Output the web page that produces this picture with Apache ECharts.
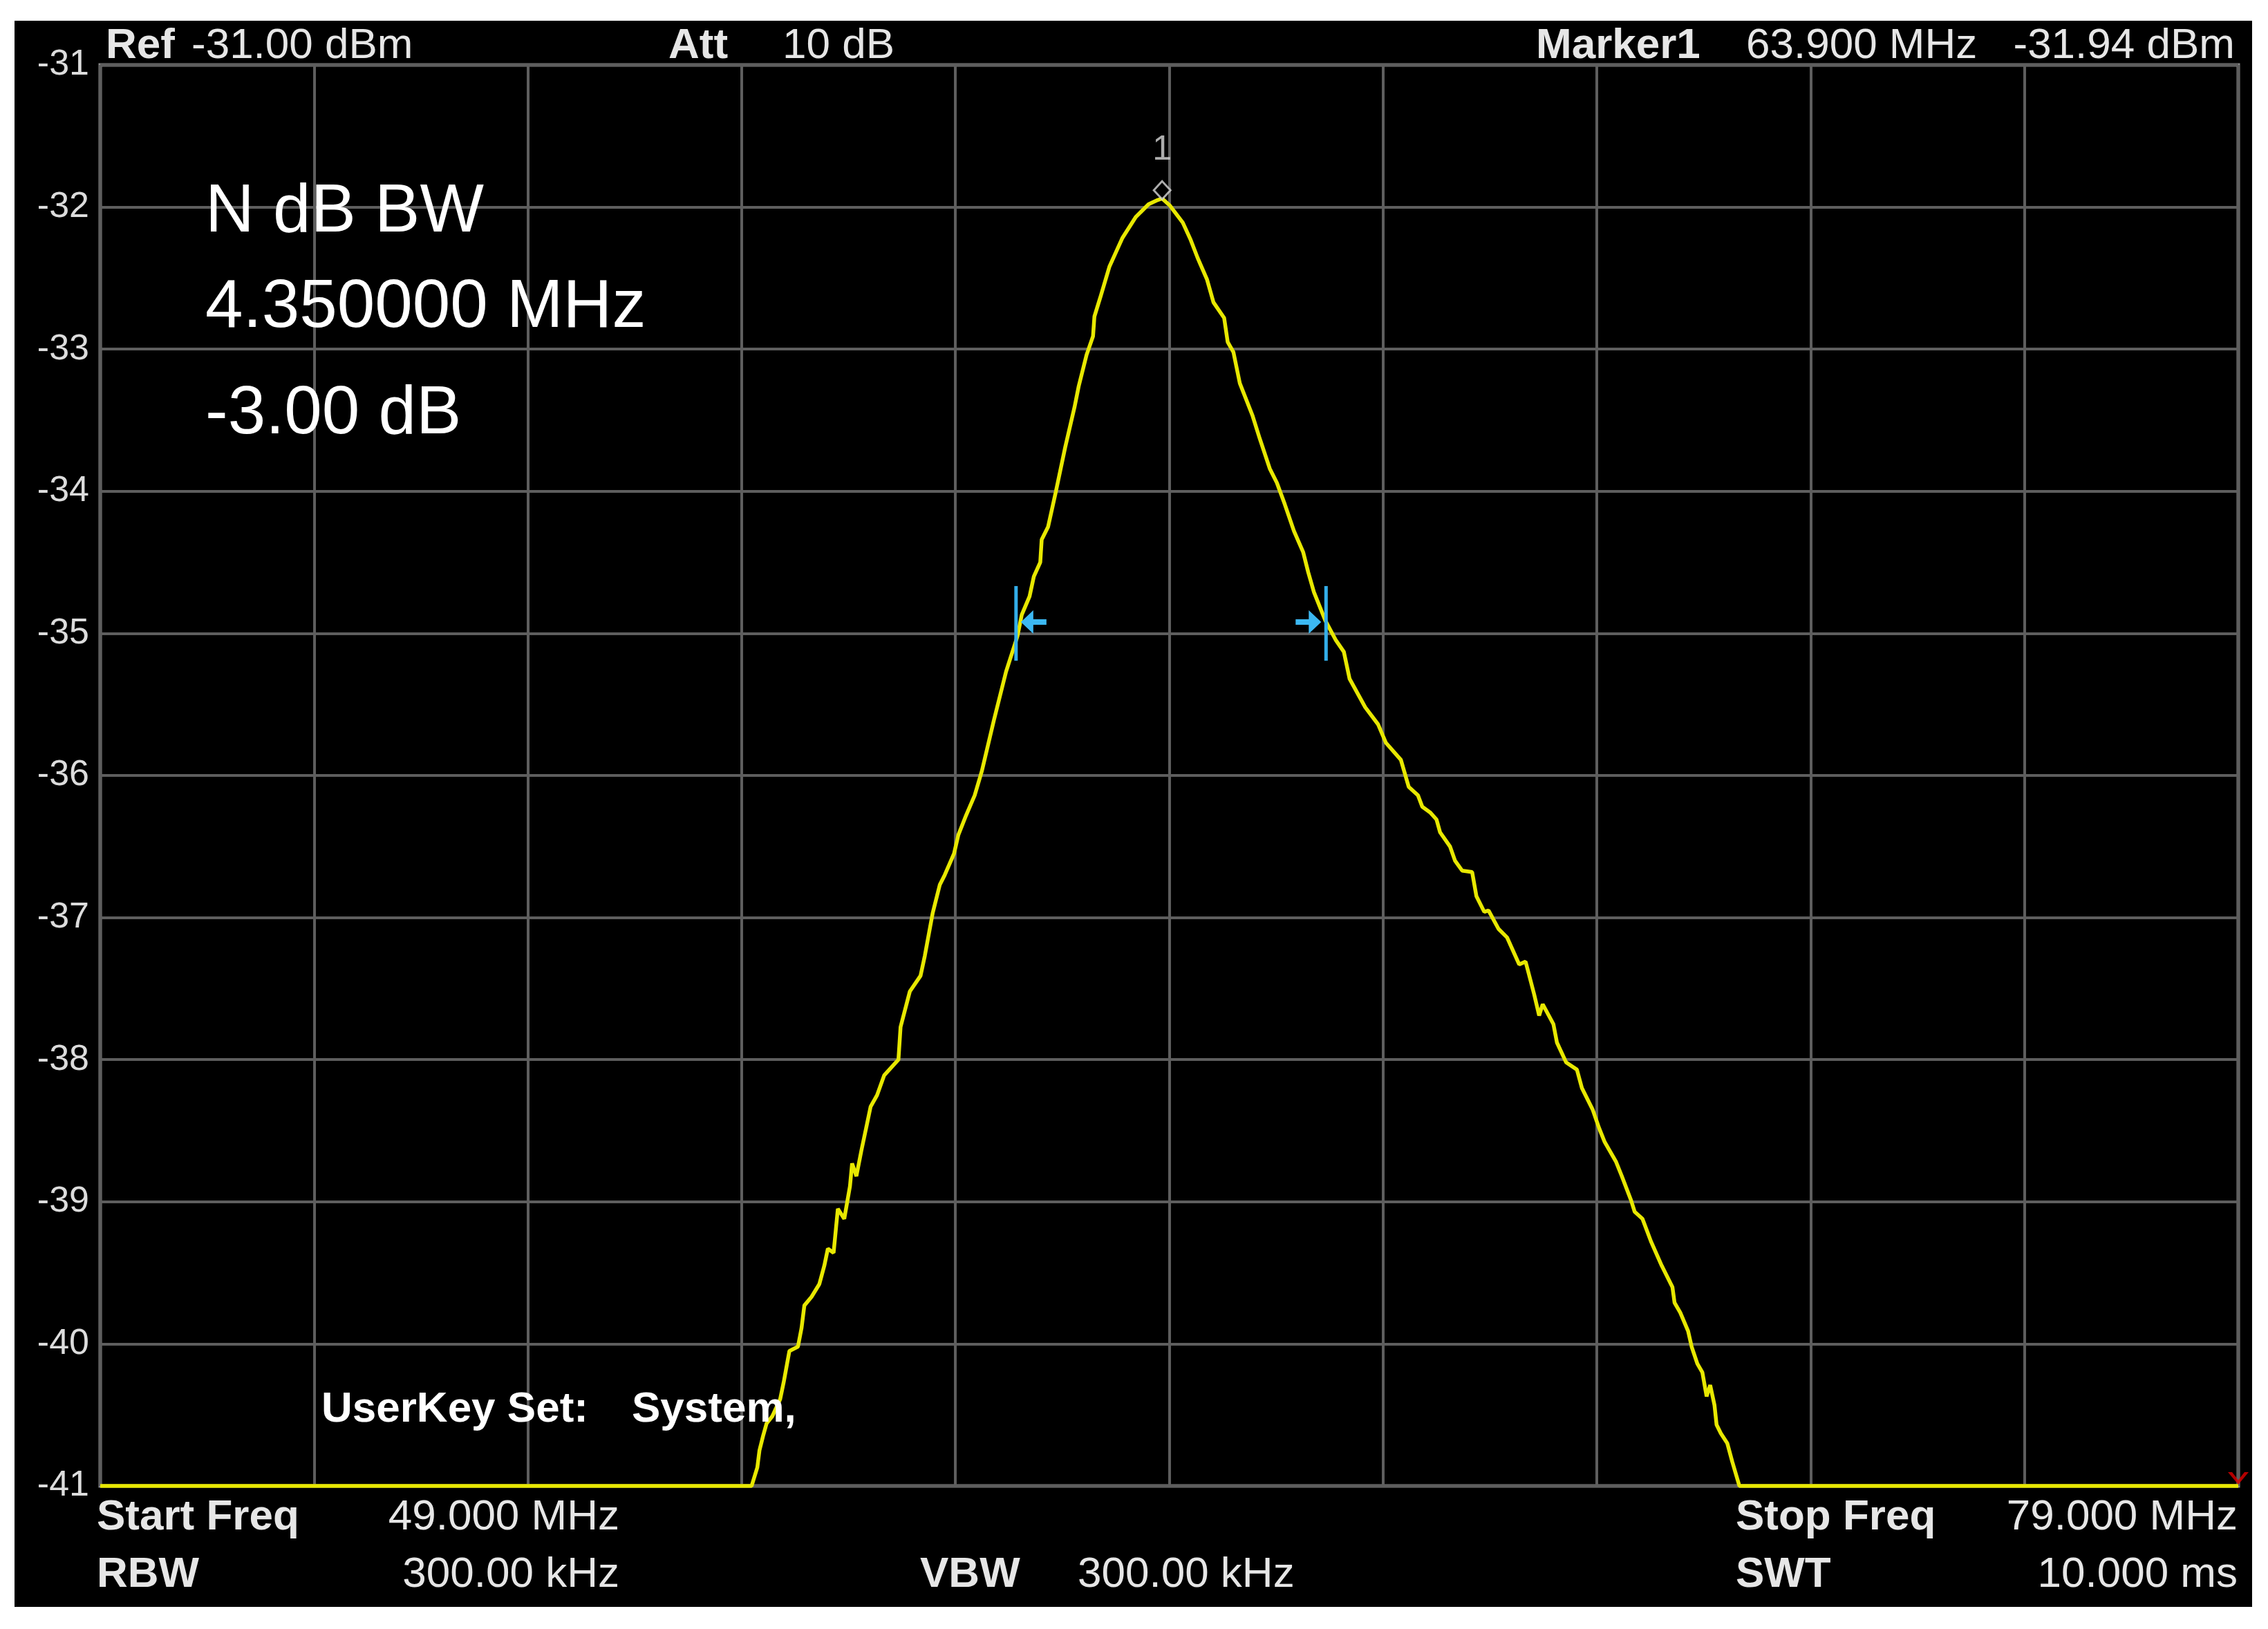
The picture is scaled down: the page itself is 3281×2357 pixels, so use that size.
<!DOCTYPE html>
<html><head><meta charset="utf-8">
<script src="https://cdn.jsdelivr.net/npm/echarts@6/dist/echarts.min.js"></script>
<style>
html,body{margin:0;padding:0;background:#fff;width:3281px;height:2357px;overflow:hidden;}
#c{position:absolute;left:21px;top:30px;width:3237px;height:2295px;background:#000;}
</style></head><body><div id="c"></div>
<script>
// ---- axis settings ----
const startFreq = 49, stopFreq = 79, freqStep = 3;      // MHz
const bottomLevel = -41, refLevel = -31, levelStep = 1;  // dBm

// ---- trace ----
const freqMHz = [
  49.00, 58.14, 58.22, 58.25, 58.30, 58.35, 58.43, 58.54, 58.59, 58.67, 58.79, 58.84, 58.88, 58.98,
  59.09, 59.16, 59.21, 59.29, 59.35, 59.44, 59.52, 59.55, 59.61, 59.68, 59.76, 59.81, 59.90, 60.00,
  60.20, 60.23, 60.36, 60.51, 60.57, 60.68, 60.78, 60.85, 60.98, 61.04, 61.15, 61.27, 61.37, 61.54,
  61.71, 61.87, 61.93, 62.04, 62.10, 62.19, 62.21, 62.30, 62.41, 62.54, 62.67, 62.73, 62.84, 62.93,
  62.95, 63.03, 63.16, 63.34, 63.53, 63.71, 63.84, 63.90,
  64.01, 64.19, 64.30, 64.40, 64.53, 64.62, 64.77, 64.82, 64.90, 64.99, 65.17, 65.27, 65.41, 65.51,
  65.62, 65.75, 65.88, 65.95, 66.03, 66.19, 66.34, 66.45, 66.53, 66.75, 66.93, 67.04, 67.25, 67.36,
  67.49, 67.55, 67.66, 67.75, 67.80, 67.94, 68.01, 68.11, 68.25, 68.31, 68.42, 68.48, 68.62, 68.74,
  68.91, 69.00, 69.12, 69.19, 69.24, 69.39, 69.44, 69.57, 69.72, 69.79, 69.94, 70.03, 70.11, 70.27,
  70.35, 70.48, 70.53, 70.64, 70.76, 70.91, 71.06, 71.09, 71.17, 71.28, 71.33, 71.41, 71.48, 71.54,
  71.59, 71.65, 71.68, 71.74, 71.83, 71.90, 72.00, 79.00
];
const levelDbm = [
  -41.00, -41.00, -40.87, -40.75, -40.65, -40.56, -40.51, -40.39, -40.27, -40.05, -40.02, -39.89, -39.73, -39.67,
  -39.58, -39.45, -39.33, -39.36, -39.05, -39.12, -38.89, -38.73, -38.82, -38.64, -38.45, -38.33, -38.25, -38.11,
  -38.00, -37.77, -37.52, -37.41, -37.27, -36.97, -36.77, -36.70, -36.55, -36.42, -36.28, -36.14, -35.97, -35.61,
  -35.27, -35.02, -34.87, -34.74, -34.60, -34.50, -34.34, -34.25, -34.00, -33.69, -33.41, -33.26, -33.04, -32.91,
  -32.77, -32.64, -32.42, -32.22, -32.07, -31.98, -31.95, -31.94,
  -31.99, -32.11, -32.23, -32.36, -32.51, -32.67, -32.78, -32.95, -33.02, -33.24, -33.47, -33.63, -33.84, -33.94,
  -34.09, -34.28, -34.43, -34.57, -34.71, -34.91, -35.05, -35.13, -35.32, -35.52, -35.64, -35.77, -35.89, -36.08,
  -36.14, -36.22, -36.26, -36.31, -36.40, -36.50, -36.60, -36.67, -36.68, -36.85, -36.96, -36.95, -37.08, -37.14,
  -37.33, -37.31, -37.54, -37.69, -37.61, -37.75, -37.88, -38.02, -38.07, -38.20, -38.35, -38.48, -38.58, -38.72,
  -38.82, -38.99, -39.07, -39.12, -39.28, -39.45, -39.60, -39.71, -39.78, -39.91, -40.02, -40.14, -40.20, -40.37,
  -40.29, -40.43, -40.57, -40.63, -40.70, -40.83, -41.00, -41.00
];

// ---- markers ----
const peakMarker = [63.90, -31.94];
const bwEdgesMHz = [61.85, 66.20];
const bwEdgeDir = [-1, 1];
const bwLevel = -34.92;

// ---- texts ----
const headerTexts = ['Ref', '-31.00 dBm', 'Att', '10 dB', 'Marker1', '63.900 MHz', '-31.94 dBm'];
const bwTexts = ['N dB BW', '4.350000 MHz', '-3.00 dB'];
const userKeyTexts = ['UserKey Set:', 'System,'];
const footerTexts = ['Start Freq', '49.000 MHz', 'Stop Freq', '79.000 MHz', 'RBW', '300.00 kHz', 'VBW', '300.00 kHz', 'SWT', '10.000 ms'];

const FF = '"Liberation Sans", Arial, sans-serif';
const TXT = '#e6e6e6';
const BLUE = '#33aeea';

function txt(text, x, y, size, bold, align, color) {
  return {
    type: 'text', x: x, y: y, silent: true, z: 10,
    style: {
      text: text, fill: color || TXT,
      font: (bold ? 'bold ' : '') + size + 'px ' + FF,
      textAlign: align || 'left', textVerticalAlign: 'middle'
    }
  };
}

const graphics = [
  txt(headerTexts[0], 132, 37, 62, true),
  txt(headerTexts[1], 256, 37, 62, false),
  txt(headerTexts[2], 946, 37, 62, true),
  txt(headerTexts[3], 1111, 37, 62, false),
  txt(headerTexts[4], 2201, 37, 62, true),
  txt(headerTexts[5], 2505, 37, 62, false),
  txt(headerTexts[6], 3212, 37, 62, false, 'right'),
  txt(bwTexts[0], 276, 278, 98, false, 'left', '#ffffff'),
  txt(bwTexts[1], 276, 416, 98, false, 'left', '#ffffff'),
  txt(bwTexts[2], 276, 570, 98, false, 'left', '#ffffff'),
  txt(userKeyTexts[0], 444, 2010, 62, true, 'left', '#ffffff'),
  txt(userKeyTexts[1], 893, 2010, 62, true, 'left', '#ffffff'),
  txt(footerTexts[0], 119, 2166, 62, true),
  txt(footerTexts[1], 875, 2166, 62, false, 'right'),
  txt(footerTexts[2], 2490, 2166, 62, true),
  txt(footerTexts[3], 3216, 2166, 62, false, 'right'),
  txt(footerTexts[4], 119, 2249, 62, true),
  txt(footerTexts[5], 875, 2249, 62, false, 'right'),
  txt(footerTexts[6], 1310, 2249, 62, true),
  txt(footerTexts[7], 1538, 2249, 62, false, 'left'),
  txt(footerTexts[8], 2490, 2249, 62, true),
  txt(footerTexts[9], 3216, 2249, 62, false, 'right')
];

const chart = echarts.init(document.getElementById('c'), null, {renderer: 'canvas'});
chart.setOption({
  backgroundColor: '#000',
  animation: false,
  grid: {
    left: 124, top: 64, width: 3093, height: 2056,
    show: true, borderColor: '#8a8a8a', borderWidth: 5, backgroundColor: 'transparent'
  },
  xAxis: {
    type: 'value', min: startFreq, max: stopFreq, interval: freqStep,
    axisLine: {show: false}, axisTick: {show: false}, axisLabel: {show: false},
    splitLine: {show: true, lineStyle: {color: '#5e5e5e', width: 4}}
  },
  yAxis: {
    type: 'value', min: bottomLevel, max: refLevel, interval: levelStep,
    axisLine: {show: false}, axisTick: {show: false},
    axisLabel: {show: true, color: '#dcdcdc', fontSize: 52, fontFamily: FF, margin: 16},
    splitLine: {show: true, lineStyle: {color: '#5e5e5e', width: 4}}
  },
  graphic: graphics,
  series: [
    {
      type: 'line', name: 'trace', clip: false, z: 3,
      data: freqMHz.map((f, i) => [f, levelDbm[i]]),
      symbol: 'none', smooth: false,
      lineStyle: {color: '#e8e800', width: 5.5},
      itemStyle: {color: '#e8e800'}
    },
    {
      type: 'scatter', name: 'marker1', z: 5,
      data: [peakMarker],
      symbol: 'diamond', symbolSize: [24, 26], symbolOffset: [0, -12],
      itemStyle: {color: '#000', borderColor: '#d8d8d8', borderWidth: 3},
      label: {show: true, formatter: '1', position: 'top', distance: 18,
              color: '#d8d8d8', fontSize: 50, fontFamily: FF}
    },
    {
      type: 'custom', name: 'ndb', z: 6,
      data: bwEdgesMHz.map((f, i) => [f, bwLevel, bwEdgeDir[i]]),
      renderItem: function (params, api) {
        const p = api.coord([api.value(0), api.value(1)]);
        const d = api.value(2);
        const tip = p[0] - d * 7;
        const back = tip - d * 18;
        const tail = p[0] - d * 44;
        return {
          type: 'group',
          children: [
            {type: 'line', shape: {x1: p[0], y1: p[1] - 52, x2: p[0], y2: p[1] + 56},
             style: {stroke: BLUE, lineWidth: 5}},
            {type: 'polygon', shape: {points: [
              [tip, p[1]], [back, p[1] - 17], [back, p[1] - 4], [tail, p[1] - 4],
              [tail, p[1] + 4], [back, p[1] + 4], [back, p[1] + 17]
            ]}, style: {fill: '#3cb8f2'}}
          ]
        };
      }
    },
    {
      type: 'scatter', name: 'endMarker', z: 6,
      data: [[stopFreq, bottomLevel]],
      symbol: 'path://M0,0 L4,0 L10,7 L16,0 L20,0 L10,11 Z',
      symbolSize: [30, 18], symbolOffset: [0, -11],
      itemStyle: {color: '#e00000'}
    }
  ]
});
</script></body></html>
